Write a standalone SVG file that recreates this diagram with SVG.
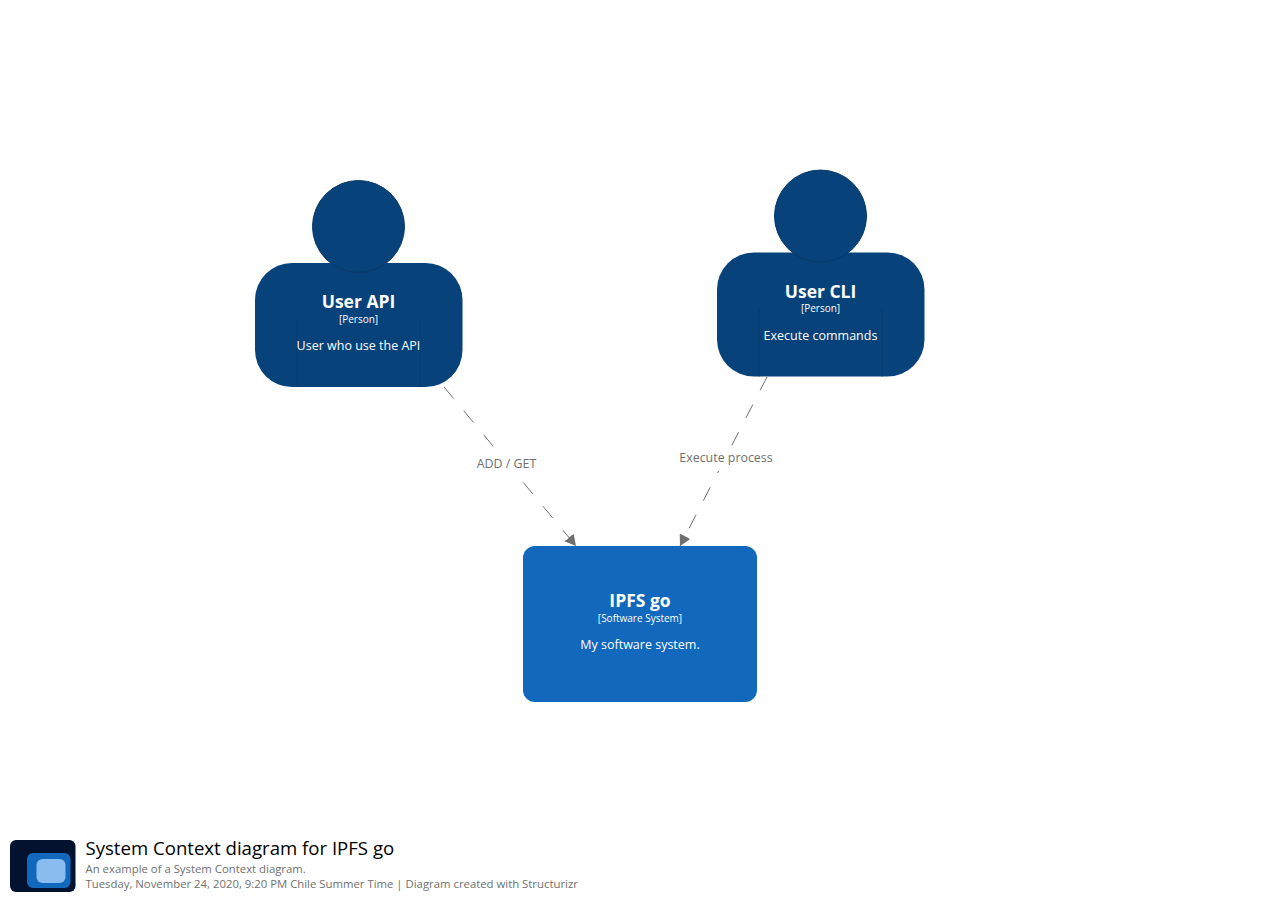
<svg xmlns="http://www.w3.org/2000/svg" width="1280" height="902" viewBox="0 0 1280 902">
<defs>
<style>
text{font-family:"Open Sans","Noto Sans",sans-serif;text-anchor:middle}
.person{fill:#07427a}
.head{stroke:#0a3a68;stroke-width:1}
.inner{stroke:#0a3a68;stroke-width:1;fill:none}
.name{fill:#fff;font-size:17.5px;font-weight:700}
.type{fill:#fff;font-size:10px}
.desc{fill:#fff;font-size:12.5px}
.link{stroke:#707070;stroke-width:1;fill:none;stroke-dasharray:15 16}
.lbl{fill:#707070;font-size:12.4px}
.foot{fill:#707070;font-size:11.35px;text-anchor:start}
</style>
<marker id="arrow" markerUnits="userSpaceOnUse" markerWidth="12" markerHeight="12" refX="11" refY="6" orient="auto"><path d="M0,0L11,6L0,12Z" fill="#707070"/></marker>
</defs>
<rect width="1280" height="902" fill="#fff"/>
<g id="connectors">
<path class="link" d="M444,387L576,546" marker-end="url(#arrow)"/>
<path class="link" d="M767,377L680,546" marker-end="url(#arrow)"/>
<rect x="475" y="452" width="64" height="25" fill="#fff"/>
<rect x="677" y="446" width="98" height="25" fill="#fff"/>
<text class="lbl" x="506.500" y="467.500">ADD / GET</text>
<text class="lbl" x="726" y="462">Execute process</text>
</g>
<g id="user-api">
<rect class="person" x="255" y="263" width="207.500" height="124" rx="37"/>
<circle class="person head" cx="358.500" cy="226.500" r="46"/>
<path class="inner" d="M297,319V387M420,319V387"/>
<text class="name" x="358.500" y="307.500">User API</text>
<text class="type" x="358.500" y="322.500">[Person]</text>
<text class="desc" x="358.500" y="350">User who use the API</text>
</g>
<g id="user-cli">
<rect class="person" x="717" y="252.500" width="207.500" height="124" rx="37"/>
<circle class="person head" cx="820.500" cy="216" r="46"/>
<path class="inner" d="M759,308.500V376.500M882,308.500V376.500"/>
<text class="name" x="820.500" y="297.500">User CLI</text>
<text class="type" x="820.500" y="312">[Person]</text>
<text class="desc" x="820.500" y="340">Execute commands</text>
</g>
<g id="ipfs-go">
<rect x="523" y="546" width="234" height="156" rx="12" fill="#1168bd"/>
<text class="name" x="640" y="606.500">IPFS go</text>
<text class="type" x="640" y="621.500">[Software System]</text>
<text class="desc" x="640" y="649">My software system.</text>
</g>
<g id="footer">
<rect x="10" y="840" width="65.500" height="52" rx="6" fill="#03122f"/>
<rect x="27" y="853" width="43.500" height="35" rx="6" fill="#1168bd"/>
<rect x="36.500" y="859" width="29" height="24" rx="6" fill="#8bbcf0"/>
<text x="85.500" y="855" font-size="18.600" fill="#000" style="text-anchor:start">System Context diagram for IPFS go</text>
<text class="foot" x="85.500" y="873">An example of a System Context diagram.</text>
<text class="foot" x="85.500" y="888">Tuesday, November 24, 2020, 9:20 PM Chile Summer Time | Diagram created with Structurizr</text>
</g>
</svg>
